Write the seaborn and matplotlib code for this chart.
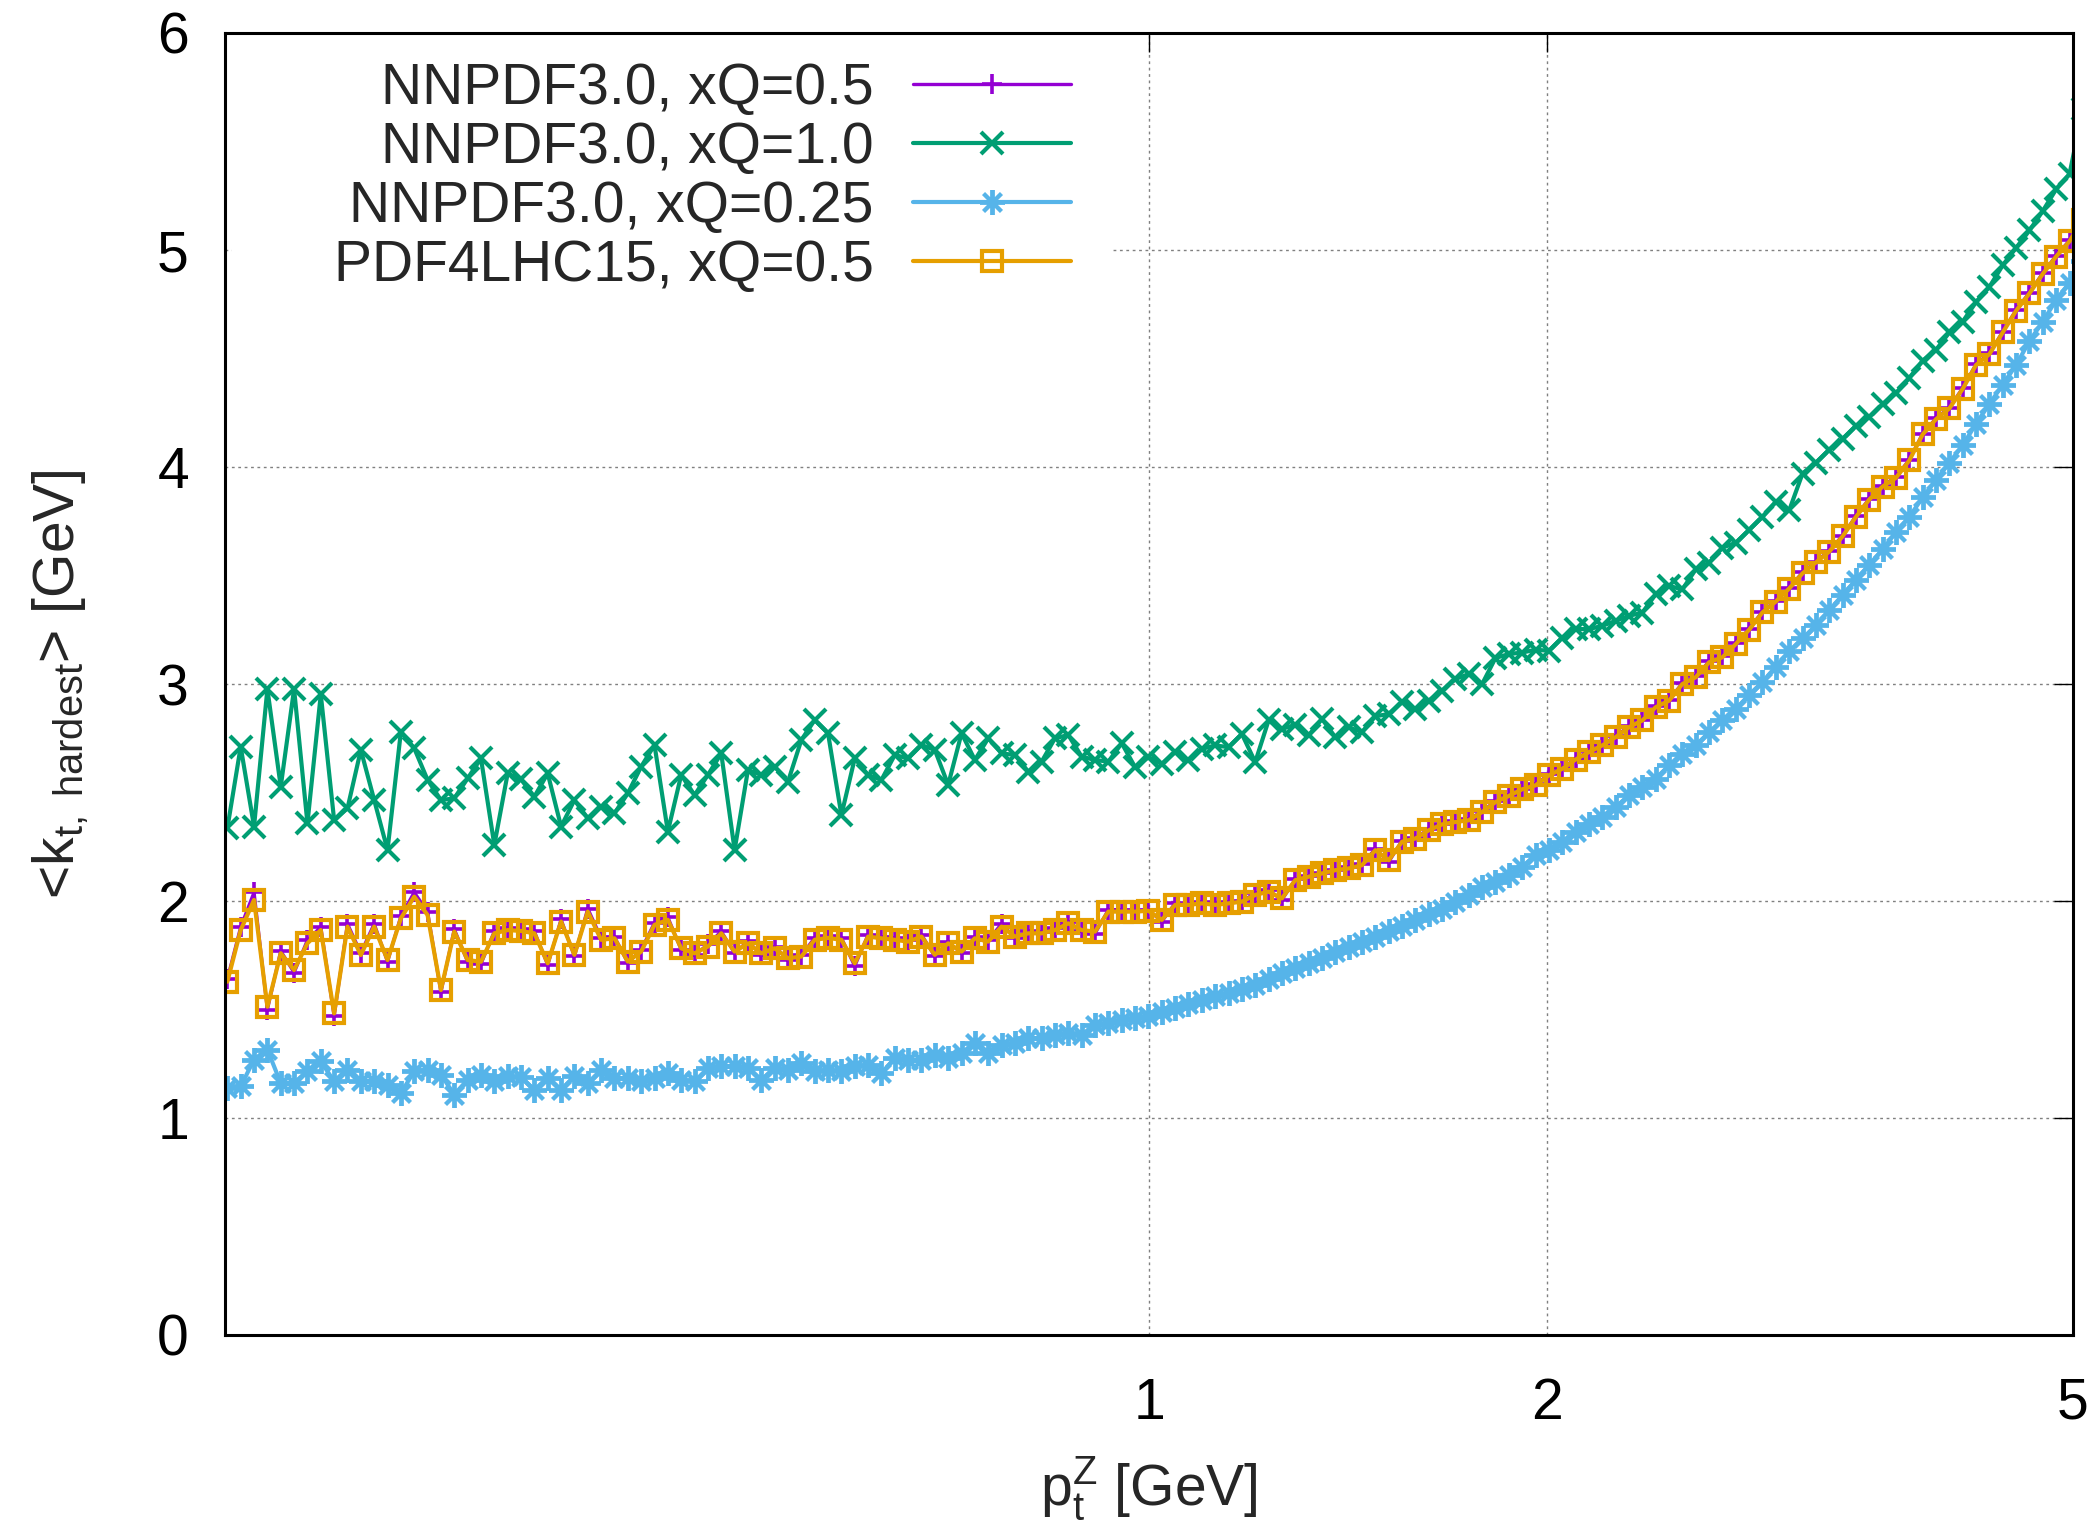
import numpy as np
import matplotlib
matplotlib.use("Agg")
import matplotlib.pyplot as plt
import seaborn as sns
from matplotlib.patches import Rectangle
from matplotlib.ticker import NullLocator

# ---------------- data ----------------
# bin centres of pt^Z (log-spaced bins)
pt_z = 10 ** (-0.6972 + 0.010098 * np.arange(140))

kt_xq10 = [
    2.335, 2.711, 2.343, 2.977, 2.527, 2.977, 2.358, 2.952, 2.373, 2.427,
    2.696, 2.465, 2.235, 2.780, 2.704, 2.558, 2.465, 2.473, 2.565, 2.657,
    2.258, 2.588, 2.560, 2.481, 2.588, 2.343, 2.465, 2.381, 2.435, 2.404,
    2.496, 2.619, 2.719, 2.320, 2.581, 2.488, 2.581, 2.680, 2.235, 2.604,
    2.581, 2.619, 2.550, 2.742, 2.834, 2.773, 2.396, 2.657, 2.581, 2.558,
    2.673, 2.657, 2.719, 2.696, 2.535, 2.773, 2.650, 2.750, 2.680, 2.673,
    2.596, 2.642, 2.750, 2.765, 2.665, 2.650, 2.642, 2.727, 2.617, 2.663,
    2.632, 2.686, 2.648, 2.701, 2.717, 2.709, 2.770, 2.640, 2.832, 2.793,
    2.812, 2.763, 2.839, 2.755, 2.801, 2.778, 2.851, 2.862, 2.916, 2.885,
    2.923, 2.970, 3.023, 3.046, 3.000, 3.120, 3.138, 3.145, 3.158, 3.153,
    3.214, 3.253, 3.253, 3.268, 3.291, 3.314, 3.329, 3.413, 3.452, 3.436,
    3.528, 3.559, 3.628, 3.651, 3.710, 3.770, 3.840, 3.800, 3.970, 4.020,
    4.080, 4.130, 4.190, 4.230, 4.290, 4.340, 4.410, 4.490, 4.540, 4.620,
    4.670, 4.760, 4.830, 4.930, 5.010, 5.090, 5.180, 5.280, 5.350, 5.650,
]

kt_pdf4lhc = [
    1.628, 1.866, 2.005, 1.513, 1.759, 1.682, 1.805, 1.866, 1.482, 1.882,
    1.751, 1.882, 1.728, 1.920, 2.020, 1.935, 1.590, 1.859, 1.728, 1.720,
    1.851, 1.866, 1.862, 1.851, 1.713, 1.905, 1.752, 1.951, 1.821, 1.828,
    1.721, 1.767, 1.890, 1.913, 1.782, 1.759, 1.790, 1.851, 1.767, 1.805,
    1.759, 1.782, 1.736, 1.744, 1.821, 1.830, 1.821, 1.713, 1.836, 1.828,
    1.821, 1.813, 1.836, 1.752, 1.805, 1.767, 1.828, 1.813, 1.882, 1.836,
    1.851, 1.851, 1.866, 1.897, 1.866, 1.859, 1.951, 1.951, 1.951, 1.955,
    1.913, 1.982, 1.982, 1.989, 1.982, 1.989, 1.997, 2.028, 2.043, 2.012,
    2.096, 2.112, 2.127, 2.142, 2.150, 2.165, 2.234, 2.188, 2.273, 2.288,
    2.326, 2.353, 2.364, 2.372, 2.410, 2.456, 2.484, 2.515, 2.533, 2.579,
    2.609, 2.652, 2.686, 2.717, 2.755, 2.801, 2.832, 2.893, 2.923, 3.000,
    3.031, 3.100, 3.123, 3.184, 3.250, 3.330, 3.380, 3.440, 3.510, 3.560,
    3.610, 3.680, 3.770, 3.850, 3.910, 3.950, 4.030, 4.150, 4.220, 4.270,
    4.360, 4.470, 4.520, 4.620, 4.720, 4.800, 4.890, 4.970, 5.040, 5.140,
]

kt_xq05 = [
    1.640, 1.880, 2.040, 1.500, 1.770, 1.670, 1.820, 1.880, 1.470, 1.895,
    1.760, 1.895, 1.720, 1.930, 2.040, 1.950, 1.580, 1.870, 1.720, 1.710,
    1.860, 1.875, 1.870, 1.860, 1.705, 1.915, 1.745, 1.965, 1.830, 1.835,
    1.715, 1.775, 1.900, 1.925, 1.775, 1.750, 1.800, 1.860, 1.760, 1.815,
    1.750, 1.790, 1.730, 1.750, 1.830, 1.840, 1.830, 1.700, 1.845, 1.835,
    1.830, 1.820, 1.845, 1.745, 1.810, 1.760, 1.835, 1.820, 1.895, 1.830,
    1.860, 1.855, 1.875, 1.905, 1.860, 1.850, 1.960, 1.960, 1.955, 1.960,
    1.905, 1.990, 1.985, 1.995, 1.985, 1.995, 2.000, 2.035, 2.050, 2.005,
    2.100, 2.115, 2.130, 2.145, 2.155, 2.170, 2.240, 2.180, 2.278, 2.292,
    2.330, 2.356, 2.368, 2.376, 2.414, 2.460, 2.488, 2.518, 2.537, 2.583,
    2.612, 2.656, 2.690, 2.720, 2.759, 2.805, 2.836, 2.897, 2.927, 3.004,
    3.035, 3.104, 3.127, 3.188, 3.254, 3.334, 3.384, 3.444, 3.514, 3.564,
    3.614, 3.684, 3.774, 3.854, 3.914, 3.954, 4.034, 4.154, 4.224, 4.274,
    4.364, 4.474, 4.524, 4.624, 4.724, 4.804, 4.894, 4.974, 5.044, 5.144,
]

kt_xq025 = [
    1.138, 1.146, 1.269, 1.315, 1.161, 1.161, 1.215, 1.261, 1.169, 1.223,
    1.169, 1.169, 1.154, 1.115, 1.215, 1.223, 1.200, 1.108, 1.177, 1.200,
    1.169, 1.192, 1.188, 1.130, 1.184, 1.130, 1.192, 1.161, 1.222, 1.184,
    1.184, 1.169, 1.184, 1.207, 1.176, 1.169, 1.230, 1.238, 1.238, 1.230,
    1.176, 1.230, 1.222, 1.253, 1.215, 1.222, 1.215, 1.238, 1.245, 1.207,
    1.276, 1.268, 1.268, 1.291, 1.276, 1.299, 1.345, 1.299, 1.337, 1.345,
    1.368, 1.368, 1.383, 1.391, 1.383, 1.429, 1.437, 1.452, 1.460, 1.469,
    1.487, 1.505, 1.524, 1.542, 1.560, 1.577, 1.596, 1.614, 1.640, 1.668,
    1.691, 1.714, 1.737, 1.763, 1.787, 1.812, 1.836, 1.861, 1.885, 1.913,
    1.939, 1.962, 1.997, 2.028, 2.066, 2.089, 2.119, 2.158, 2.211, 2.234,
    2.273, 2.319, 2.357, 2.387, 2.433, 2.487, 2.525, 2.564, 2.625, 2.678,
    2.717, 2.778, 2.832, 2.885, 2.950, 3.010, 3.080, 3.150, 3.210, 3.270,
    3.340, 3.410, 3.480, 3.550, 3.620, 3.700, 3.770, 3.860, 3.940, 4.020,
    4.100, 4.200, 4.290, 4.380, 4.470, 4.580, 4.670, 4.770, 4.850, 4.950,
]

labels = ["NNPDF3.0, xQ=0.5", "NNPDF3.0, xQ=1.0",
          "NNPDF3.0, xQ=0.25", "PDF4LHC15, xQ=0.5"]
x_ticks = [1, 2, 5]
x_ticklabels = ["1", "2", "5"]
y_ticks = [0, 1, 2, 3, 4, 5, 6]

# ---------------- style ----------------
sns.set_style("white")
plt.rcParams["font.family"] = ["Liberation Sans", "DejaVu Sans"]
plt.rcParams["mathtext.fontset"] = "custom"
plt.rcParams["mathtext.rm"] = "Liberation Sans"
plt.rcParams["mathtext.it"] = "Liberation Sans:italic"
plt.rcParams["mathtext.bf"] = "Liberation Sans:bold"

FS = 41

fig = plt.figure(figsize=(21, 15.27), dpi=100)
ax = fig.add_axes([225 / 2100, 1 - 1335 / 1527, 1848 / 2100, 1302 / 1527])

series = [
    (kt_xq05, "#9400D3", "+", 15, 2.6, 2.4, "full"),
    (kt_xq10, "#009E73", "x", 16, 3.0, 3.0, "full"),
    (kt_xq025, "#56B4E9", (8, 2, 0), 18, 2.8, 3.0, "full"),
    (kt_pdf4lhc, "#E69F00", "s", 15, 3.0, 3.0, "none"),
]
for (vals, col, mk, ms, mew, lw, fill), lab in zip(series, labels):
    sns.lineplot(x=pt_z, y=vals, ax=ax, color=col, marker=mk, markersize=ms,
                 markeredgewidth=mew, markeredgecolor=col,
                 markerfacecolor=("none" if fill == "none" else col),
                 linewidth=lw, label=lab, errorbar=None, estimator=None,
                 sort=False)

ax.set_xscale("log")
ax.set_xlim(0.2, 5)
ax.set_ylim(0, 6)
ax.set_xticks(x_ticks)
ax.set_xticklabels(x_ticklabels)
ax.xaxis.set_minor_locator(NullLocator())
ax.set_yticks(y_ticks)
ax.set_yticklabels([str(v) for v in y_ticks])

ax.set_axisbelow(True)
ax.grid(True, which="major", color="#808080", linestyle=(0, (2, 2.6)),
        linewidth=1.0)

# opaque key box (hides grid behind the legend)
ax.add_patch(Rectangle((0.004, 0.78), 0.475, 0.219, transform=ax.transAxes,
                       facecolor="white", edgecolor="none", zorder=1))

for s in ax.spines.values():
    s.set_linewidth(2.2)
    s.set_color("black")

ax.tick_params(which="major", direction="in", length=14, width=1.0,
               top=True, right=True, labelsize=FS, colors="black")
ax.tick_params(axis="x", pad=30)
ax.tick_params(axis="y", pad=26)

ax.set_xlabel(r"p$_\mathrm{t}^\mathrm{Z}$ [GeV]", fontsize=FS)
ax.set_ylabel(r"<k$_\mathrm{t,\ hardest}$> [GeV]", fontsize=FS)
ax.xaxis.set_label_coords(0.5, -0.092)
ax.yaxis.set_label_coords(-0.073, 0.5)

leg = ax.legend(loc="upper right", bbox_to_anchor=(0.4578, 0.978),
                frameon=False, markerfirst=False, handlelength=2.77,
                handletextpad=0.7, labelspacing=0.09, borderaxespad=0,
                borderpad=0, fontsize=FS)

fig.savefig("out.png", dpi=100)
